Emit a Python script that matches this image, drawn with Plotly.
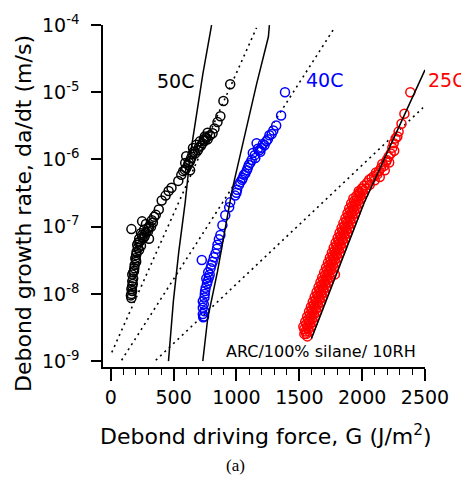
import plotly.graph_objects as go

# ---- data ----
black_G = [950, 896, 872, 849, 825, 810, 771, 748, 717, 693, 670, 639, 631, 615, 600, 576, 561, 537,
           483, 460, 436, 405, 382, 358, 327, 249, 164, 304, 280, 249, 226, 304, 210, 202, 202, 187,
           171, 171, 164, 164, 164,
           748, 709, 654, 600, 592, 631, 660, 700, 730, 760, 790, 620, 590, 680, 740, 770, 650,
           280, 265, 240, 320, 295, 230, 260, 215, 225, 195, 190, 180, 178, 170, 170, 160,
           345, 335, 300, 270, 250, 240, 220, 205, 200, 185, 175]
black_v = [1.32e-5, 7.4e-6, 4.4e-6, 3.6e-6, 2.9e-6, 2.45e-6, 2.0e-6, 1.9e-6, 1.6e-6, 1.37e-6, 1.23e-6,
           1.04e-6, 9.5e-7, 8.3e-7, 7.4e-7, 6.7e-7, 5.9e-7, 4.8e-7, 3.8e-7, 3.4e-7, 2.9e-7, 2.45e-7,
           1.8e-7, 1.5e-7, 1.25e-7, 1.2e-7, 9.2e-8, 1.0e-7, 8.3e-8, 7.5e-8, 6.6e-8, 6.6e-8, 5.4e-8,
           3.8e-8, 3.0e-8, 2.4e-8, 1.95e-8, 1.55e-8, 1.18e-8, 1.0e-8, 8.7e-9,
           2.2e-6, 1.86e-6, 1.48e-6, 1.12e-6, 8.9e-7, 6.9e-7, 1.3e-6, 1.5e-6, 1.75e-6, 2.1e-6, 2.3e-6,
           9.0e-7, 7.0e-7, 1.65e-6, 2.0e-6, 2.5e-6, 1.2e-6,
           1.1e-7, 9.0e-8, 8.0e-8, 1.0e-7, 8.5e-8, 6.0e-8, 6.8e-8, 4.8e-8, 4.5e-8, 3.4e-8, 2.7e-8,
           2.1e-8, 1.7e-8, 1.3e-8, 1.1e-8, 9.5e-9,
           1.4e-7, 1.15e-7, 9.5e-8, 7.2e-8, 7.0e-8, 5.2e-8, 5.8e-8, 4.2e-8, 3.2e-8, 2.2e-8, 1.4e-8]

blue_G = [1386, 1355, 1316, 1293, 1262, 1238, 1223, 1160, 1184, 1145, 1121, 1098, 1083, 1059, 1044,
          1020, 1005, 989, 950, 942, 911, 888, 872, 849, 833, 810, 794, 787, 771, 755, 748, 732, 732,
          732, 724,
          1200, 1250, 1110, 1070, 1030, 1000, 1130, 1170, 1210,
          860, 845, 820, 800, 780, 765, 750, 745, 740, 745, 735, 760, 775, 742,
          1280, 1190, 1150, 1090, 1050]
blue_v = [1.0e-5, 4.5e-6, 3.2e-6, 2.7e-6, 2.3e-6, 1.87e-6, 1.63e-6, 1.74e-6, 1.38e-6, 1.16e-6, 9.8e-7,
          8.3e-7, 6.9e-7, 5.9e-7, 5.0e-7, 4.2e-7, 3.55e-7, 2.9e-7, 2.3e-7, 1.94e-7, 1.48e-7, 1.05e-7,
          7.5e-8, 5.4e-8, 4.0e-8, 3.0e-8, 2.4e-8, 1.95e-8, 1.55e-8, 1.23e-8, 1.0e-8, 7.8e-9, 6.2e-9,
          5.0e-9, 3.2e-8,
          1.5e-6, 2.0e-6, 8.9e-7, 6.2e-7, 4.6e-7, 3.2e-7, 1.25e-6, 1.45e-6, 1.7e-6,
          6.5e-8, 4.7e-8, 3.5e-8, 2.7e-8, 1.75e-8, 1.4e-8, 1.1e-8, 8.8e-9, 7.0e-9, 5.5e-9, 4.5e-9,
          1.7e-8, 2.1e-8, 4.6e-9,
          2.4e-6, 1.3e-6, 1.05e-6, 7.5e-7, 5.3e-7]

# red band: rows of velocity, each with the debond forces of the overlapping circles
red_rows_v = [2.33e-9, 2.54e-9, 2.75e-9, 3.0e-9, 3.26e-9, 3.55e-9, 3.86e-9, 4.2e-9, 4.57e-9,
              4.97e-9, 5.41e-9, 5.89e-9, 6.40e-9, 6.96e-9, 7.58e-9, 8.25e-9, 8.97e-9, 9.76e-9,
              1.06e-8, 1.155e-8, 1.26e-8, 1.37e-8, 1.49e-8, 1.62e-8, 1.76e-8, 1.92e-8, 2.09e-8,
              2.27e-8, 2.47e-8, 2.69e-8, 2.92e-8, 3.18e-8, 3.46e-8, 3.76e-8, 4.10e-8, 4.46e-8,
              4.85e-8, 5.28e-8, 5.75e-8, 6.26e-8, 6.81e-8, 7.41e-8, 8.06e-8, 8.77e-8, 9.54e-8,
              1.04e-7, 1.13e-7, 1.23e-7, 1.34e-7, 1.46e-7, 1.58e-7, 1.72e-7, 1.87e-7, 2.04e-7,
              2.22e-7, 2.42e-7, 2.63e-7, 2.86e-7, 3.11e-7, 3.38e-7, 3.68e-7]
red_rows_G = [[1564], [1556, 1540], [1579, 1548], [1571, 1540], [1594, 1563, 1532], [1586, 1555],
              [1609, 1578, 1547], [1601, 1570], [1624, 1593, 1562], [1616, 1585],
              [1639, 1608, 1577], [1631, 1600], [1654, 1623, 1592], [1646, 1615],
              [1669, 1638, 1607], [1661, 1630], [1684, 1653, 1622], [1676, 1645],
              [1699, 1668, 1637], [1691, 1660], [1715, 1684, 1653], [1707, 1676],
              [1730, 1699, 1668], [1721, 1690], [1744, 1713, 1682], [1736, 1705],
              [1760, 1729, 1698], [1752, 1721], [1775, 1744, 1713], [1767, 1736],
              [1790, 1759, 1728], [1782, 1751], [1805, 1774, 1743], [1797, 1766],
              [1821, 1790, 1759], [1813, 1782], [1836, 1805, 1774], [1828, 1797],
              [1851, 1820, 1789], [1843, 1812], [1867, 1836, 1805], [1859, 1828],
              [1882, 1851, 1820], [1874, 1843], [1898, 1867, 1836], [1890, 1859],
              [1913, 1882, 1851], [1905, 1874], [1929, 1898, 1867], [1921, 1890],
              [1945, 1914, 1883], [1936, 1905], [1959, 1928, 1897], [1951, 1920],
              [1975, 1944, 1913], [1968, 1937], [1992, 1961, 1930], [1985, 1954],
              [2010, 1979], [2003, 1972], [2028, 1997]]
red_top_G = [2383, 2336, 2313, 2290, 2266, 2251, 2227, 2196, 2173, 2134, 2095, 2056, 2017, 1978,
             2210, 2240, 2280, 2150, 2120, 2075, 2040, 2000, 2110, 2160, 2190, 1783,
             2060, 2100, 2140, 2180, 2215, 2255]
red_top_v = [1.0e-5, 4.8e-6, 3.4e-6, 2.6e-6, 2.06e-6, 1.74e-6, 1.23e-6, 9.8e-7, 8.0e-7, 6.7e-7,
             5.7e-7, 5.0e-7, 4.1e-7, 3.2e-7,
             1.1e-6, 1.5e-6, 2.2e-6, 7.5e-7, 6.0e-7, 5.3e-7, 4.5e-7, 3.7e-7, 6.4e-7, 8.6e-7, 9.2e-7,
             1.95e-8,
             4.2e-7, 4.9e-7, 5.5e-7, 6.9e-7, 9.0e-7, 1.35e-6]

# model (solid) curves
fit50_G = [459, 498, 541, 592, 631, 681, 732, 802]
fit50_v = [1e-9, 7.8e-9, 4.25e-8, 2.3e-7, 1.12e-6, 4.8e-6, 1.85e-5, 1e-4]
fit40_G = [732, 771, 849, 966, 1051, 1160, 1254, 1262]
fit40_v = [1e-9, 4.3e-9, 2.16e-8, 3.55e-7, 1.74e-6, 1.32e-5, 6.7e-5, 1e-4]
fit25_G = [1597, 1838, 2017, 2251, 2500]
fit25_v = [2.17e-9, 3.24e-8, 2.29e-7, 2.06e-6, 2.15e-5]

# exponential (dotted) fits
exp50_G = [8, 1160]
exp50_v = [1.35e-9, 9.1e-5]
exp40_G = [86, 1783]
exp40_v = [1.03e-9, 9.3e-5]
exp25_G = [358, 2484]
exp25_v = [1.03e-9, 5.9e-6]

y_tickvals = [1e-9, 1e-8, 1e-7, 1e-6, 1e-5, 1e-4]
y_ticktext = ["10<sup>-9</sup>", "10<sup>-8</sup>", "10<sup>-7</sup>", "10<sup>-6</sup>",
              "10<sup>-5</sup>", "10<sup>-4</sup>"]
x_tickvals = [0, 500, 1000, 1500, 2000, 2500]

FONT = "DejaVu Sans"

red_G, red_v = [], []
for vv, gs in zip(red_rows_v, red_rows_G):
    for g in gs:
        red_G.append(g)
        red_v.append(vv)
red_G += red_top_G
red_v += red_top_v

fig = go.Figure()

for gx, vy in [(exp50_G, exp50_v), (exp40_G, exp40_v), (exp25_G, exp25_v)]:
    fig.add_trace(go.Scatter(x=gx, y=vy, mode="lines",
                             line=dict(color="black", width=1.6, dash="2px,4px"),
                             showlegend=False, hoverinfo="skip"))

for gx, vy, c in [(black_G, black_v, "black"), (blue_G, blue_v, "#0000ff"), (red_G, red_v, "#ff0000")]:
    fig.add_trace(go.Scatter(x=gx, y=vy, mode="markers",
                             marker=dict(symbol="circle-open", size=9, color=c,
                                         line=dict(width=1.5, color=c)),
                             showlegend=False))

for gx, vy in [(fit50_G, fit50_v), (fit40_G, fit40_v), (fit25_G, fit25_v)]:
    fig.add_trace(go.Scatter(x=gx, y=vy, mode="lines", line=dict(color="black", width=1.5),
                             showlegend=False, hoverinfo="skip"))

L, R, T, B = 103, 29, 20, 121
W, H = 461, 488
pw, ph = W - L - R, H - T - B

def px(x):
    return (x - L) / pw

def py(y):
    return (H - B - y) / ph

fig.update_layout(
    width=W, height=H,
    margin=dict(l=L, r=R, t=T, b=B, pad=0),
    paper_bgcolor="white", plot_bgcolor="white",
    font=dict(family=FONT, size=19, color="black"),
    xaxis=dict(range=[-62, 2500], showline=True, linecolor="black", linewidth=1.6,
               ticks="outside", ticklen=12, tickwidth=1.6, tickcolor="black",
               tickvals=x_tickvals, showgrid=False, zeroline=False,
               tickfont=dict(family=FONT, size=19),
               minor=dict(dtick=100, tick0=0, ticks="outside", ticklen=6, tickwidth=1.4,
                          tickcolor="black", showgrid=False)),
    yaxis=dict(type="log", range=[-9.088, -3.999], showline=True, linecolor="black", linewidth=1.6,
               ticks="outside", ticklen=10, tickwidth=1.6, tickcolor="black",
               tickvals=y_tickvals, ticktext=y_ticktext, showgrid=False, zeroline=False,
               ticklabelstandoff=8,
               tickfont=dict(family=FONT, size=19)),
)

ann = [
    dict(text="Debond growth rate, da/dt (m/s)", x=px(22), y=py(211), textangle=-90,
         font=dict(size=22)),
    dict(text="Debond driving force, G (J/m<sup>2</sup>)", x=px(270), y=py(436),
         font=dict(size=22)),
    dict(text="(a)", x=px(238), y=py(467), font=dict(family="Liberation Serif", size=17)),
    dict(text="50C", x=px(177), y=py(77), font=dict(size=19, color="black")),
    dict(text="40C", x=px(329), y=py(76), font=dict(size=19, color="#0000ff")),
    dict(text="25C", x=px(433), y=py(76), xanchor="left", font=dict(size=19, color="#ff0000")),
    dict(text="ARC/100% silane/ 10RH", x=px(326), y=py(351), font=dict(size=16)),
]
for a in ann:
    base = dict(xref="paper", yref="paper", showarrow=False, xanchor="center", yanchor="middle")
    base.update(a)
    fig.add_annotation(**base)

fig.write_html("out.html")
